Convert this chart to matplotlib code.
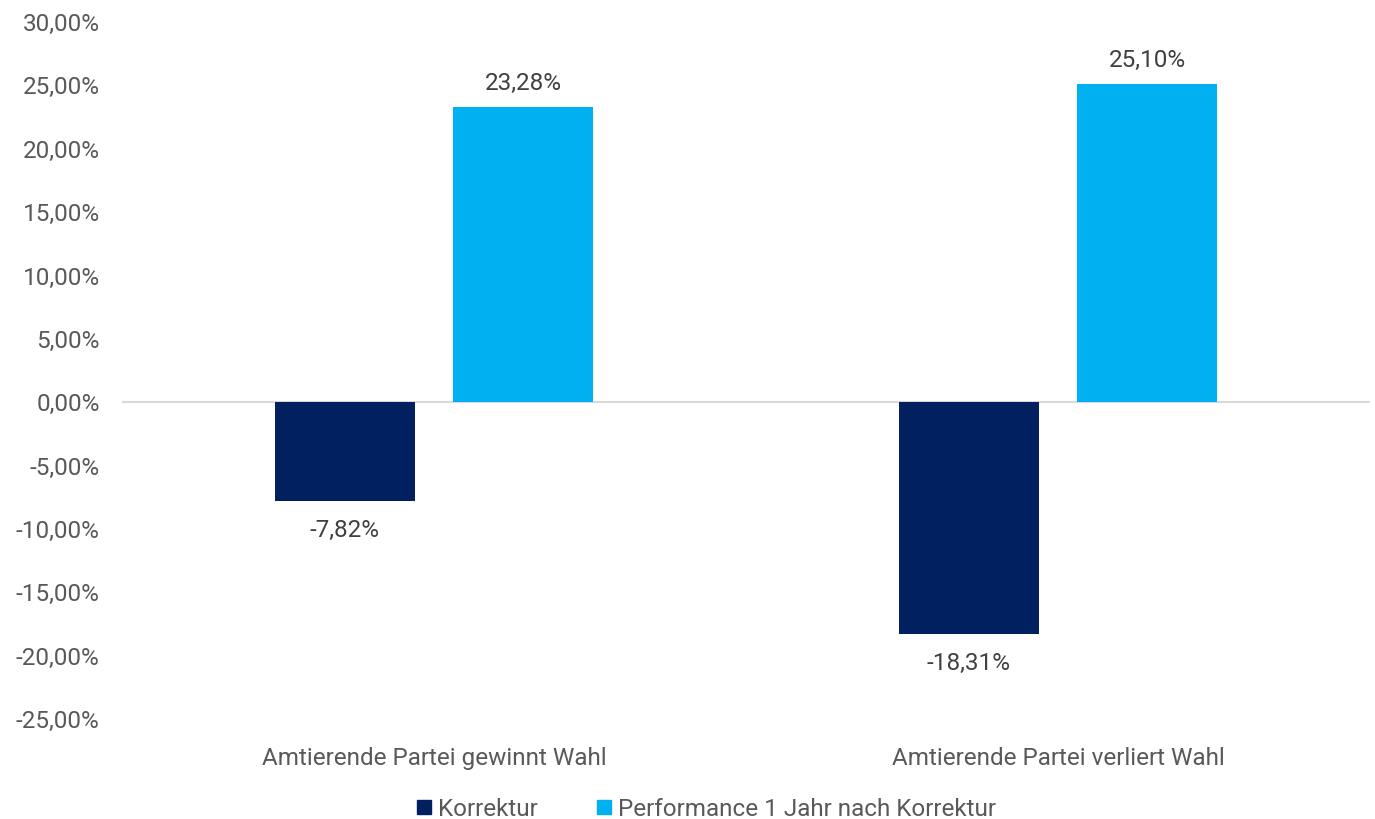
import matplotlib
matplotlib.use("Agg")
import matplotlib.pyplot as plt
from matplotlib.lines import Line2D
import numpy as np

# ── Data ───────────────────────────────────────────────────────────────────────
categories   = ["Amtierende Partei gewinnt Wahl", "Amtierende Partei verliert Wahl"]
korrektur    = [-7.82, -18.31]
performance  = [23.28, 25.10]
series_names = ["Korrektur", "Performance 1 Jahr nach Korrektur"]
y_ticks      = [-25, -20, -15, -10, -5, 0, 5, 10, 15, 20, 25, 30]

NAVY  = "#002060"
CYAN  = "#00B0F0"
GREY  = "#595959"
LABEL = "#404040"
FS    = 17.5

plt.rcParams["font.family"] = ["Roboto", "DejaVu Sans"]


def de_pct(v):
    return f"{v:.2f}%".replace(".", ",")


fig = plt.figure(figsize=(13.75, 8.19), dpi=100)
ax = fig.add_axes([0.0887, 0.1221, 0.9077, 0.8510])

x = np.arange(len(categories))
width = 0.224
offset = 0.143

bars_k = ax.bar(x - offset, korrektur, width, color=NAVY, zorder=2)
bars_p = ax.bar(x + offset, performance, width, color=CYAN, zorder=2)

for bars in (bars_k, bars_p):
    for b in bars:
        v = b.get_height()
        cx = b.get_x() + b.get_width() / 2
        if v >= 0:
            ax.annotate(de_pct(v), (cx, v), xytext=(0, 9), textcoords="offset points",
                        ha="center", va="bottom", fontsize=FS, color=LABEL)
        else:
            ax.annotate(de_pct(v), (cx, v), xytext=(0, -13), textcoords="offset points",
                        ha="center", va="top", fontsize=FS, color=LABEL)

ax.axhline(0, color="#D9D9D9", linewidth=1.5, zorder=1)

ax.set_xlim(-0.5, 1.5)
ax.set_ylim(-25, 30)
ax.set_yticks(y_ticks)
ax.set_yticklabels([de_pct(t) for t in y_ticks], fontsize=FS, color=GREY)
ax.set_xticks(x)
ax.set_xticklabels(categories, fontsize=FS, color=GREY)
ax.tick_params(axis="both", length=0)
ax.tick_params(axis="y", pad=16)
ax.tick_params(axis="x", pad=20)
for s in ax.spines.values():
    s.set_visible(False)

handles = [
    Line2D([], [], marker="s", linestyle="none", markersize=10, color=NAVY),
    Line2D([], [], marker="s", linestyle="none", markersize=10, color=CYAN),
]
leg = fig.legend(handles, series_names, loc="lower center", bbox_to_anchor=(0.512, -0.029),
                 ncol=2, frameon=False, fontsize=FS, handletextpad=0.1, columnspacing=2.2,
                 handlelength=1.0)
for t in leg.get_texts():
    t.set_color(GREY)

fig.savefig("out.png", dpi=100)
